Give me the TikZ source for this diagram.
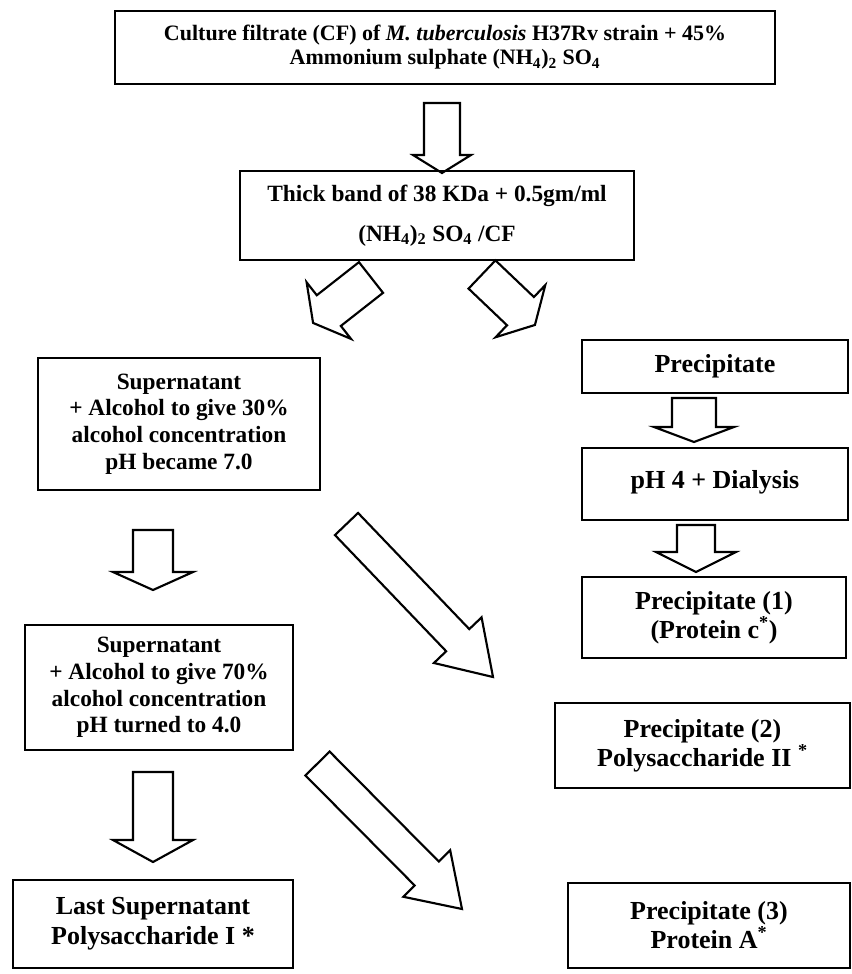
\documentclass[tikz,border=0pt]{standalone}
\usepackage{fontspec}
\setmainfont{Liberation Serif}
\usetikzlibrary{calc}
\newcommand\blockarrow[5]{%
  \path let \p1=($(#2)-(#1)$) in \pgfextra{%
    \pgfmathsetmacro\baang{atan2(\y1,\x1)}%
    \pgfmathsetmacro\balen{veclen(\x1,\y1)/0.75}%
    \global\let\baang\baang \global\let\balen\balen};
  \draw[blk, shift={(#1)}, rotate=\baang]
    (0,#3) -- ({\balen-#5},#3) -- ({\balen-#5},#4) -- (\balen,0)
    -- ({\balen-#5},-#4) -- ({\balen-#5},-#3) -- (0,-#3) -- cycle;
}
\begin{document}
\begin{tikzpicture}[x=0.75pt,y=-0.75pt,
  box/.style={draw, line width=1.5pt, align=center, inner sep=0pt, font=\bfseries},
  blk/.style={draw, line width=1.6pt, line join=miter},
]
\path[use as bounding box, fill=white] (0,0) rectangle (852,974);

% boxes
\node[box, minimum width=495pt, minimum height=54.75pt, font=\bfseries\fontsize{16.5}{18}\selectfont] (top) at (445,47.5)
  {Culture filtrate (CF) of \textit{M. tuberculosis} H37Rv strain + 45\%\\Ammonium sulphate (NH\textsubscript{4})\textsubscript{2} SO\textsubscript{4}};
\node[box, minimum width=295.5pt, minimum height=66.75pt, font=\bfseries\fontsize{17.5}{30}\selectfont] (band) at (437,215.5)
  {Thick band of 38 KDa + 0.5gm/ml\\(NH\textsubscript{4})\textsubscript{2} SO\textsubscript{4} /CF};
\node[box, minimum width=211.5pt, minimum height=99pt, font=\bfseries\fontsize{17.5}{20}\selectfont] (sup1) at (179,424)
  {Supernatant\\+ Alcohol to give 30\%\\alcohol concentration\\pH became 7.0};
\node[box, minimum width=201pt, minimum height=93.75pt, font=\bfseries\fontsize{17.5}{20}\selectfont] (sup2) at (159,687.5)
  {Supernatant\\+ Alcohol to give 70\%\\alcohol concentration\\pH turned to 4.0};
\node[box, minimum width=210pt, minimum height=66pt, font=\bfseries\fontsize{19.5}{22.5}\selectfont] (last) at (153,924)
  {Last Supernatant\\Polysaccharide I *};
\node[box, minimum width=199.5pt, minimum height=39.75pt, font=\bfseries\fontsize{19.5}{22}\selectfont] (prec) at (715,366.5)
  {Precipitate};
\node[box, minimum width=199.5pt, minimum height=54pt, font=\bfseries\fontsize{19.5}{22}\selectfont] (ph) at (715,484)
  {\raisebox{6.5pt}{pH 4 + Dialysis}};
\node[box, minimum width=198pt, minimum height=60.75pt, font=\bfseries\fontsize{19.5}{19}\selectfont] (p1) at (714,617.5)
  {Precipitate (1)\\(Protein c\textsuperscript{*})};
\node[box, minimum width=221.25pt, minimum height=63.75pt, font=\bfseries\fontsize{19.5}{18.5}\selectfont] (p2) at (702.5,745.5)
  {Precipitate (2)\\Polysaccharide II \textsuperscript{*}};
\node[box, minimum width=211.5pt, minimum height=63.75pt, font=\bfseries\fontsize{19.5}{20}\selectfont] (p3) at (709,925.5)
  {Precipitate (3)\\Protein A\textsuperscript{*}};

% arrow end points
\coordinate (a1s) at (442,103);   \coordinate (a1t) at (442,173);
\coordinate (a2s) at (153,530);   \coordinate (a2t) at (153,590);
\coordinate (a3s) at (153,772);   \coordinate (a3t) at (153,862);
\coordinate (a4s) at (694,398);   \coordinate (a4t) at (694,442);
\coordinate (a5s) at (696,525);   \coordinate (a5t) at (696,572);
\coordinate (d1s) at (371,277.5); \coordinate (d1t) at (313,323);
\coordinate (d2s) at (482,274.5); \coordinate (d2t) at (535,325);
\coordinate (d3s) at (346.5,524); \coordinate (d3t) at (493,677);
\coordinate (d4s) at (317.5,763.5); \coordinate (d4t) at (462,909);

\blockarrow{a1s}{a1t}{18}{29}{18}
\blockarrow{a2s}{a2t}{20}{40}{18}
\blockarrow{a3s}{a3t}{20}{40}{22}
\blockarrow{a4s}{a4t}{22}{40}{15}
\blockarrow{a5s}{a5t}{19}{40}{20}
\blockarrow{d1s}{d1t}{19.5}{36}{20}
\blockarrow{d2s}{d2t}{19.5}{36}{20}
\blockarrow{d3s}{d3t}{16}{33}{51}
\blockarrow{d4s}{d4t}{17}{33}{50}
\end{tikzpicture}
\end{document}
